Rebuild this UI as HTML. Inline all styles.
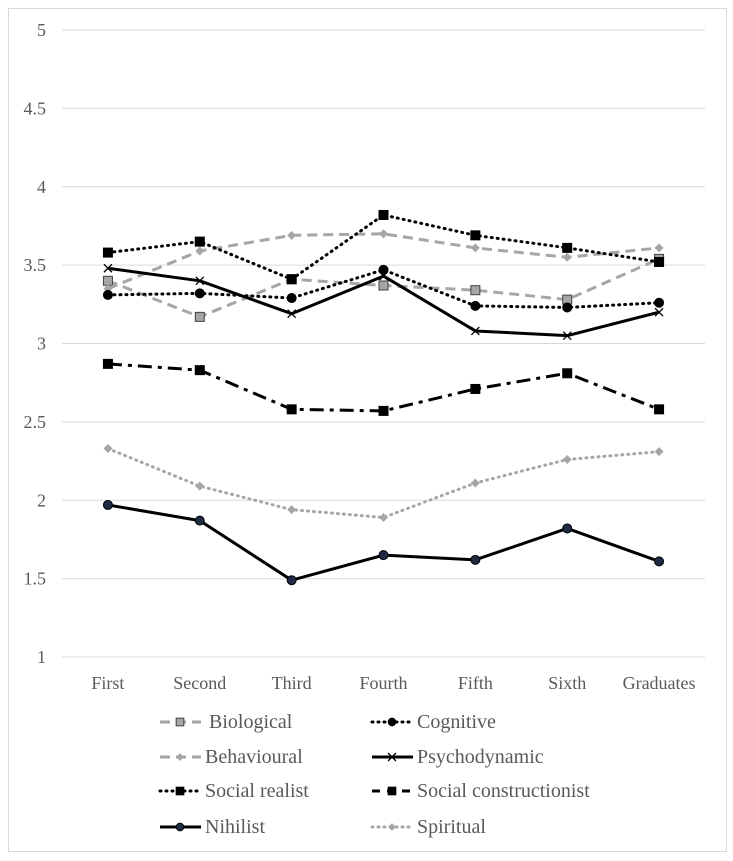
<!DOCTYPE html>
<html><head><meta charset="utf-8"><style>
body{margin:0;background:#fff;position:relative;width:733px;height:861px;}
svg{display:block;font-family:"Times New Roman","Liberation Serif",serif;}
svg text{font-family:"Times New Roman","Liberation Serif",serif;}
.lg{position:absolute;font-family:"Times New Roman","Liberation Serif",Times,serif;font-size:20px;color:#595959;line-height:20px;white-space:nowrap;}
</style></head><body>
<svg id="chart" width="733" height="861" xmlns="http://www.w3.org/2000/svg">
<rect x="8.5" y="8.5" width="718" height="843" fill="#fff" stroke="#d9d9d9"/>
<g id="grid"></g><g id="series"></g><g id="legend"></g>
</svg>
<div class="lg" style="left:209px;top:712px">Biological</div>
<div class="lg" style="left:417px;top:712px">Cognitive</div>
<div class="lg" style="left:205px;top:747px">Behavioural</div>
<div class="lg" style="left:417px;top:747px">Psychodynamic</div>
<div class="lg" style="left:205px;top:781px">Social realist</div>
<div class="lg" style="left:417px;top:781px">Social constructionist</div>
<div class="lg" style="left:205px;top:817px">Nihilist</div>
<div class="lg" style="left:417px;top:817px">Spiritual</div>
<script>
const categories=["First","Second","Third","Fourth","Fifth","Sixth","Graduates"];
const yTicks=[1,1.5,2,2.5,3,3.5,4,4.5,5];
const yTickLabels=["1","1.5","2","2.5","3","3.5","4","4.5","5"];
const biological=[3.40,3.17,3.41,3.37,3.34,3.28,3.54];
const behavioural=[3.35,3.59,3.69,3.70,3.61,3.55,3.61];
const cognitive=[3.31,3.32,3.29,3.47,3.24,3.23,3.26];
const psychodynamic=[3.48,3.40,3.19,3.43,3.08,3.05,3.20];
const socialRealist=[3.58,3.65,3.41,3.82,3.69,3.61,3.52];
const socialConstructionist=[2.87,2.83,2.58,2.57,2.71,2.81,2.58];
const spiritual=[2.33,2.09,1.94,1.89,2.11,2.26,2.31];
const nihilist=[1.97,1.87,1.49,1.65,1.62,1.82,1.61];

const NS="http://www.w3.org/2000/svg";
const L=62,R=705,T=30,B=657;
const x=i=>L+(R-L)/categories.length*(i+0.5);
const y=v=>B-(v-1)/4*(B-T);
function mk(tag,at,parent){const e=document.createElementNS(NS,tag);for(const k in at)e.setAttribute(k,at[k]);parent.appendChild(e);return e;}
const grid=document.getElementById('grid'),ser=document.getElementById('series'),leg=document.getElementById('legend');
yTicks.forEach((t,i)=>{
  const ln=mk('line',{x1:L,x2:R,y1:y(t),y2:y(t),stroke:'#d9d9d9','stroke-width':1},grid);
  
  
  const tx=mk('text',{x:46,y:y(t)+6,'text-anchor':'end','font-size':18,fill:'#595959'},grid);
  tx.textContent=yTickLabels[i];
  
  
});
categories.forEach((c,i)=>{
  const tx=mk('text',{x:x(i),y:689,'text-anchor':'middle','font-size':18,fill:'#595959'},grid);
  tx.textContent=c;
  
  
});
function marker(type,cx,cy,st,g,sc){
  sc=sc||1;
  if(type==='sq'){const h=4.5*sc;mk('rect',{x:cx-h,y:cy-h,width:2*h,height:2*h,fill:st.mf,stroke:st.ms||'#000','stroke-width':1},g);}
  else if(type==='circ')mk('circle',{cx,cy,r:4.5*sc,fill:st.mf,stroke:st.ms||'#000'},g);
  else if(type==='dia'){const h=4.5*sc;mk('path',{d:`M${cx} ${cy-h}L${cx+h} ${cy}L${cx} ${cy+h}L${cx-h} ${cy}Z`,fill:st.mf},g);}
  else if(type==='x')mk('path',{d:`M${cx-4} ${cy-4}L${cx+4} ${cy+4}M${cx-4} ${cy+4}L${cx+4} ${cy-4}`,stroke:'#000','stroke-width':1.3},g);
}
const styles=[
 {d:biological,name:'biological',c:'#a6a6a6',w:3,da:'10,6',m:'sq',mf:'#a6a6a6',ms:'#404040'},
 {d:cognitive,name:'cognitive',c:'#000',w:3,da:'1,5',lc:'round',m:'circ',mf:'#000'},
 {d:behavioural,name:'behavioural',c:'#a6a6a6',w:3,da:'10,6',m:'dia',mf:'#a6a6a6'},
 {d:psychodynamic,name:'psychodynamic',c:'#000',w:3,da:'',m:'x',mf:'#000'},
 {d:socialRealist,name:'social-realist',c:'#000',w:3,da:'1,5',lc:'round',m:'sq',mf:'#000'},
 {d:socialConstructionist,name:'social-constructionist',c:'#000',w:3,da:'14,6,4,6',m:'sq',mf:'#000'},
 {d:nihilist,name:'nihilist',c:'#000',w:3,da:'',m:'circ',mf:'#1f2a44'},
 {d:spiritual,name:'spiritual',c:'#a6a6a6',w:3,da:'1,5',lc:'round',m:'dia',mf:'#a6a6a6'}
];
const order=[5,7,6,0,2,3,1,4];
order.forEach(k=>{
  const s=styles[k];
  const g=mk('g',{},ser);
  
  
  const pts=s.d.map((v,i)=>x(i)+','+y(v)).join(' ');
  const pl=mk('polyline',{points:pts,fill:'none',stroke:s.c,'stroke-width':s.w,'stroke-dasharray':s.da,'stroke-linecap':s.lc||'butt','stroke-linejoin':'round'},g);
  
  
  s.d.forEach((v,i)=>marker(s.m,x(i),y(v),s,g));
});
const legPos=[[160,722],[372,722],[160,757],[372,757],[160,791],[372,791],[160,827],[372,827]];
styles.forEach((s,i)=>{
  const [lx,ly]=legPos[i];
  const g=mk('g',{},leg);
  
  
  mk('line',{x1:lx,x2:lx+41,y1:ly,y2:ly,stroke:s.c,'stroke-width':3,'stroke-dasharray':s.da==='14,6,4,6'?'8,7':(s.da?s.da:''),'stroke-linecap':s.lc||'butt'},g);
  marker(s.m,lx+20,ly,s,g,0.85);
});
</script>
</body></html>
